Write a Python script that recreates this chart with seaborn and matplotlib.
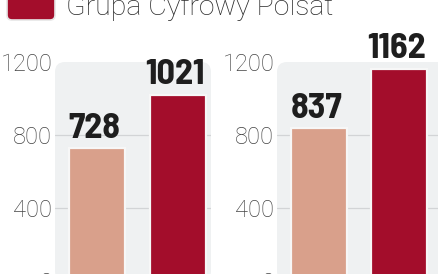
import matplotlib
matplotlib.use("Agg")
import matplotlib.pyplot as plt
from matplotlib.patches import FancyBboxPatch
import seaborn as sns
import pandas as pd

# data
periods = ["A", "B"]
series_names = ["Poprzedni okres", "Grupa Cyfrowy Polsat"]
left_values = [728, 1021]
right_values = [837, 1162]
y_ticks = [0, 400, 800, 1200]
legend_label = "Grupa Cyfrowy Polsat"

light_col = "#d9a08b"
dark_col = "#a30d2b"
bg_col = "#eff1f2"
grid_col = "#d2d4d6"
tick_col = "#444444"

sns.set_theme(style="white")
plt.rcParams['font.family'] = ['Roboto', 'DejaVu Sans']
num_family = ["Barlow Semi Condensed", "DejaVu Sans"]

W, H = 439, 274
fig = plt.figure(figsize=(W / 100, H / 100), dpi=100)
fig.patch.set_facecolor("white")

def px_axes(x0, x1, ytop, yzero):
    return fig.add_axes([x0 / W, (H - yzero) / H, (x1 - x0) / W, (yzero - ytop) / H])

panels = [
    (left_values, 55, 211, -0.52, 1.41),
    (right_values, 277, 460, -0.525, 1.76),
]

for vals, x0, x1, xl, xr in panels:
    ax = px_axes(x0, x1, 62, 281)
    ax.set_facecolor("none")
    wpx, hpx = x1 - x0, 281 - 62
    bg = FancyBboxPatch((0, 0), 1, 1.0, boxstyle=f"round,pad=0,rounding_size={10 / wpx}",
                        mutation_aspect=wpx / hpx, transform=ax.transAxes,
                        facecolor=bg_col, edgecolor="none", zorder=0, clip_on=False)
    ax.add_patch(bg)
    df = pd.DataFrame({"period": periods, "value": vals, "series": series_names})
    sns.barplot(data=df, x="period", y="value", hue="series",
                palette=[light_col, dark_col], dodge=False, width=0.7, saturation=1,
                edgecolor="#f7f7f7", linewidth=1.6, legend=False, ax=ax, zorder=3)
    for i, v in enumerate(vals):
        ax.text(i - 0.03, v + 58, f"{v}", ha="center", va="baseline", fontsize=26,
                fontweight="bold", color="#1e1e1e",
                family=num_family, clip_on=False, zorder=5)
    ax.set_xlim(xl, xr)
    ax.set_ylim(0, 1200)
    ax.set_yticks(y_ticks)
    ax.set_yticklabels([str(t) for t in y_ticks])
    for t in [400, 800]:
        ax.axhline(t, color=grid_col, lw=0.9, zorder=1)
    ax.tick_params(axis="y", length=0, pad=2, labelsize=17, labelcolor=tick_col)
    for lab in ax.get_yticklabels():
        lab.set_fontweight("light")
    ax.set_xticks([])
    ax.set_xlabel("")
    ax.set_ylabel("")
    for s in ax.spines.values():
        s.set_visible(False)

# legend (cropped at top)
sq = FancyBboxPatch((7 / W, (H - 20) / H), 48 / W, 40 / H,
                    boxstyle=f"round,pad=0,rounding_size={5 / W}",
                    mutation_aspect=W / H,
                    transform=fig.transFigure, facecolor=dark_col,
                    edgecolor="#e6e6e6", linewidth=1.2)
fig.patches.append(sq)
fig.text(66 / W, (H - 15) / H, legend_label, ha="left", va="baseline",
         fontsize=20.5, fontweight="light", color="#2a2a2a")

fig.savefig("out.png", dpi=100)
